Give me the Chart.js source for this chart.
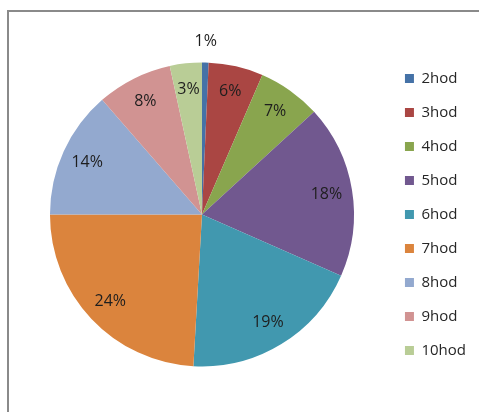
<!DOCTYPE html>
<html>
<head>
<meta charset="utf-8">
<script src="https://cdn.jsdelivr.net/npm/chart.js@4/dist/chart.umd.min.js"></script>
<style>
    html, body { margin: 0; padding: 0; background: #fff; }
    #wrap { position: relative; width: 479px; height: 412px; overflow: hidden; }
    #frame {
        position: absolute; left: 7px; top: 10px;
        width: 520px; height: 450px;
        border: 2px solid #8a8a8a; box-sizing: border-box;
    }
    #pieChart { position: absolute; left: 0; top: 0; }
</style>
</head>
<body>
<div id="wrap">
    <div id="frame"></div>
    <canvas id="pieChart" width="479" height="412"></canvas>
</div>
<script>
// Categories and shares (percent)
const categories = ['2hod', '3hod', '4hod', '5hod', '6hod', '7hod', '8hod', '9hod', '10hod'];
const shares = [0.7, 5.8, 6.7, 18.4, 19.3, 24.1, 13.6, 8.0, 3.4];
const sliceColors = ['#4572A7', '#AA4643', '#89A54E', '#71588F', '#4198AF',
                     '#DB843D', '#93A9CF', '#D19392', '#B9CD96'];

// Percent labels drawn on (or just outside) each slice
const sliceLabels = {
    id: 'sliceLabels',
    afterDatasetsDraw(chart) {
        const ctx = chart.ctx;
        const meta = chart.getDatasetMeta(0);
        const values = chart.data.datasets[0].data;
        const total = values.reduce((a, b) => a + b, 0);
        ctx.save();
        ctx.font = '16px "Open Sans"';
        ctx.fillStyle = '#1e1e1e';
        ctx.textAlign = 'center';
        ctx.textBaseline = 'middle';
        meta.data.forEach((arc, i) => {
            const p = arc.getProps(['x', 'y', 'startAngle', 'endAngle', 'outerRadius'], true);
            const mid = (p.startAngle + p.endAngle) / 2;
            const pct = values[i] / total * 100;
            const k = pct < 2 ? 1.14 : 0.83;
            const x = p.x + Math.cos(mid) * p.outerRadius * k;
            const y = p.y + Math.sin(mid) * p.outerRadius * k;
            ctx.fillText(Math.round(pct) + '%', x, y);
        });
        ctx.restore();
    }
};

const ctx = document.getElementById('pieChart').getContext('2d');
new Chart(ctx, {
    type: 'pie',
    data: {
        labels: categories,
        datasets: [{
            data: shares,
            backgroundColor: sliceColors,
            borderWidth: 0,
            radius: 152
        }]
    },
    options: {
        responsive: false,
        animation: false,
        layout: { padding: { top: 17, bottom: 0, left: 18, right: 3 } },
        plugins: {
            legend: {
                position: 'right',
                labels: {
                    boxWidth: 9,
                    boxHeight: 9,
                    padding: 19,
                    color: '#262626',
                    font: { family: '"Open Sans"', size: 15 }
                }
            },
            tooltip: { enabled: false }
        }
    },
    plugins: [sliceLabels]
});
</script>
</body>
</html>
